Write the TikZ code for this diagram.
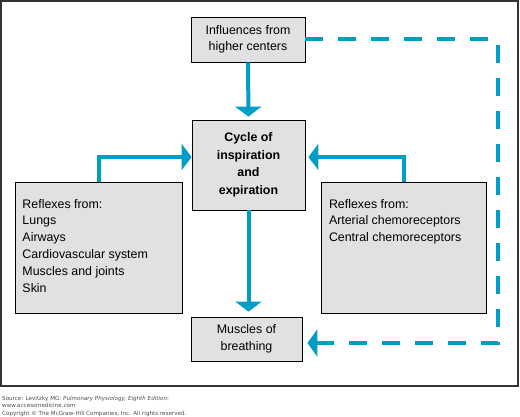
\documentclass[tikz,border=0pt]{standalone}
\usepackage{fontspec}
\setmainfont{Liberation Sans}
\newfontfamily\srcfont{DejaVu Sans}
\usetikzlibrary{arrows.meta,shadows}

\definecolor{flowblue}{RGB}{0,158,198}
\definecolor{boxgray}{RGB}{224,225,227}
\colorlet{srcgray}{black!70}

\tikzset{
  box/.style={draw=black, line width=0.8pt, fill=boxgray, inner sep=0pt,
    drop shadow={shadow xshift=1.4pt, shadow yshift=-1.4pt, fill=black!80, opacity=1},
    font=\fontsize{12.4}{17}\selectfont},
  flow/.style={draw=flowblue, line width=4pt,
    -{Triangle[width=26pt,length=10pt]}},
  feedback/.style={draw=flowblue, line width=4pt, dash pattern=on 18pt off 15pt,
    -{Triangle[width=27pt,length=10pt]}}
}

\begin{document}
\begin{tikzpicture}[x=1pt, y=-1pt]
    \useasboundingbox (0,0) rectangle (520,417);
    %--- Rahmen ---
    \draw[line width=1.5pt, black!80] (0.8,0.8) rectangle (518,386);
    %--- Kasten ---
    \node[box, minimum width=114pt, minimum height=45pt, align=center,
      font=\fontsize{12.4}{16}\selectfont] (higher) at (248,39.5)
      {Influences from\\higher centers};
    \node[box, minimum width=113pt, minimum height=90pt, align=center,
      font=\fontsize{12.4}{17.5}\selectfont\bfseries] (cycle) at (248.5,165)
      {Cycle of\\inspiration\\and\\expiration};
    \node[box, minimum width=111pt, minimum height=44pt, align=center] (muscles) at (246.5,339)
      {Muscles of\\breathing};
    \node[box, inner xsep=7.5pt] (leftreflex) at (98.5,247.5)
      {\parbox[c][131pt][t]{152pt}{\raggedright\rule{0pt}{26pt}Reflexes from:\\
        Lungs\\Airways\\Cardiovascular system\\Muscles and joints\\Skin}};
    \node[box, inner xsep=8pt] (rightreflex) at (403.5,247.5)
      {\parbox[c][131pt][t]{149pt}{\raggedright\rule{0pt}{26pt}Reflexes from:\\
        Arterial chemoreceptors\\Central chemoreceptors}};
    %--- Pfeile ---
    \draw[flow, shorten >=3pt] (higher.south) -- (cycle.north);
    \draw[flow, shorten >=5pt] (cycle.south) -- (cycle.south |- muscles.north);
    \draw[flow] (leftreflex.north) |- ([yshift=8pt]cycle.west);
    \draw[flow, shorten >=3pt] (rightreflex.north) |- ([yshift=8pt]cycle.east);
    %--- Rueckkopplung ---
    \coordinate (fb) at (498,0);
    \coordinate (fbin) at ([yshift=-4pt]muscles.east);
    \draw[feedback, shorten >=5pt] (higher.east) -- (higher.east -| fb)
      -- (fb |- fbin) -- (fbin);
    %--- Quelle ---
    \node[anchor=north west, inner sep=0pt, align=left, text=srcgray,
      font=\srcfont\fontsize{5.6}{6.6}\selectfont] (source) at (2,396)
      {Source: Levitzky MG: \textit{Pulmonary Physiology, Eighth Edition}:\\
       www.accessmedicine.com\\[2pt]
       Copyright \textcopyright{} The McGraw-Hill Companies, Inc. All rights reserved.};
\end{tikzpicture}
\end{document}
